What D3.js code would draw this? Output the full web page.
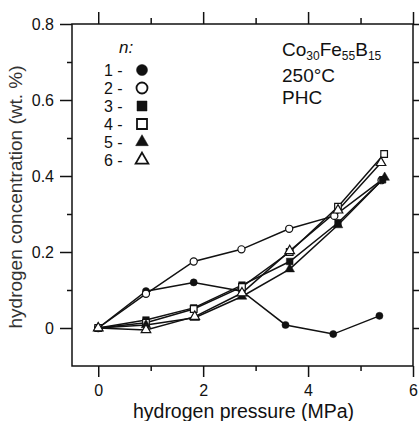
<!DOCTYPE html>
<html>
<head>
    <title>Hydrogen concentration</title>
    <script src="https://cdn.jsdelivr.net/npm/d3@7"></script>
    <style>
        body { margin: 0; background: #fff; }
        text { font-family: "Liberation Sans", Arial, sans-serif; }
    </style>
</head>
<body>
    <div id="chart"></div>
    <script type="text/javascript">
        // pressure (MPa) and hydrogen content (wt. %) for n = 1..6
        var x1 = [0, 0.91, 1.82, 2.74, 3.57, 4.48, 5.36];
        var y1 = [0, 0.097, 0.120, 0.097, 0.008, -0.016, 0.032];
        var x2 = [0, 0.91, 1.82, 2.73, 3.64, 4.50, 5.40];
        var y2 = [0, 0.090, 0.175, 0.207, 0.261, 0.295, 0.389];
        var x3 = [0, 0.91, 1.82, 2.74, 3.65, 4.57, 5.42];
        var y3 = [0, 0.021, 0.053, 0.113, 0.175, 0.277, 0.390];
        var x4 = [0, 0.91, 1.82, 2.74, 3.65, 4.57, 5.45];
        var y4 = [0, 0.014, 0.050, 0.108, 0.200, 0.319, 0.458];
        var x5 = [0, 0.91, 1.84, 2.74, 3.65, 4.57, 5.46];
        var y5 = [0, 0.008, 0.027, 0.083, 0.155, 0.271, 0.396];
        var x6 = [0, 0.91, 1.84, 2.74, 3.65, 4.57, 5.39];
        var y6 = [0, -0.005, 0.030, 0.092, 0.203, 0.310, 0.435];

        var seriesNames = ["1", "2", "3", "4", "5", "6"];
        var xTicks = [0, 2, 4, 6];
        var xMinor = [1, 3, 5];
        var yTicks = [0, 0.2, 0.4, 0.6, 0.8];
        var yMinor = [0.1, 0.3, 0.5, 0.7];
        var yTickLabels = ["0", "0.2", "0.4", "0.6", "0.8"];

        var width = 419;
        var height = 421;
        var pL = 72, pR = 413, pT = 24, pB = 366;

        var xScale = d3.scaleLinear().domain([-0.5, 6]).range([pL, pR]);
        var yScale = d3.scaleLinear().domain([-0.1, 0.8]).range([pB, pT]);

        var svg = d3.select("#chart").append("svg")
            .attr('width', width)
            .attr('height', height)
            .style('background', '#fff');

        // axes: outward ticks all round
        function styleAxis(g) {
            g.select(".domain").remove();
            g.selectAll("line").attr("stroke", "#111").attr("stroke-width", 1.5);
            g.selectAll("text").attr("fill", "#111")
                .style("font-size", "16px")
                .style("font-family", '"Liberation Sans", Arial, sans-serif');
        }

        svg.append("g").attr("transform", "translate(0," + pB + ")")
            .call(d3.axisBottom(xScale).tickValues(xTicks).tickSize(11).tickPadding(8)
                .tickFormat(d3.format("d")))
            .call(styleAxis);
        svg.append("g").attr("transform", "translate(0," + pB + ")")
            .call(d3.axisBottom(xScale).tickValues(xMinor).tickSize(5).tickFormat(""))
            .call(styleAxis);
        svg.append("g").attr("transform", "translate(0," + pT + ")")
            .call(d3.axisTop(xScale).tickValues(xTicks).tickSize(12).tickFormat(""))
            .call(styleAxis);
        svg.append("g").attr("transform", "translate(0," + pT + ")")
            .call(d3.axisTop(xScale).tickValues(xMinor).tickSize(6).tickFormat(""))
            .call(styleAxis);
        svg.append("g").attr("transform", "translate(" + pL + ",0)")
            .call(d3.axisLeft(yScale).tickValues(yTicks).tickSize(12).tickPadding(6)
                .tickFormat(function(d, i) { return yTickLabels[i]; }))
            .call(styleAxis);
        svg.append("g").attr("transform", "translate(" + pL + ",0)")
            .call(d3.axisLeft(yScale).tickValues(yMinor).tickSize(5).tickFormat(""))
            .call(styleAxis);
        svg.append("g").attr("transform", "translate(" + pR + ",0)")
            .call(d3.axisRight(yScale).tickValues(yTicks.concat(yMinor)).tickSize(8).tickFormat(""))
            .call(styleAxis);

        svg.append("rect")
            .attr("x", pL).attr("y", pT)
            .attr("width", pR - pL).attr("height", pB - pT)
            .attr("fill", "none").attr("stroke", "#111").attr("stroke-width", 1.5);

        // axis titles
        svg.append("text")
            .attr("x", (pL + pR) / 2 + 1).attr("y", 418)
            .attr("text-anchor", "middle")
            .style("font-size", "19.5px").attr("fill", "#111")
            .text("hydrogen pressure (MPa)");
        svg.append("text")
            .attr("transform", "translate(22,197) rotate(-90)")
            .attr("text-anchor", "middle")
            .style("font-size", "19px").attr("fill", "#333")
            .text("hydrogen concentration (wt. %)");

        // series
        var series = [
            { name: seriesNames[0], xs: x1, ys: y1, type: d3.symbolCircle, fill: true },
            { name: seriesNames[1], xs: x2, ys: y2, type: d3.symbolCircle, fill: false },
            { name: seriesNames[2], xs: x3, ys: y3, type: d3.symbolSquare, fill: true },
            { name: seriesNames[3], xs: x4, ys: y4, type: d3.symbolSquare, fill: false },
            { name: seriesNames[4], xs: x5, ys: y5, type: d3.symbolTriangle, fill: true },
            { name: seriesNames[5], xs: x6, ys: y6, type: d3.symbolTriangle, fill: false }
        ];

        var line = d3.line()
            .x(function(d) { return xScale(d[0]); })
            .y(function(d) { return yScale(d[1]); });

        series.forEach(function(s) {
            var pts = s.xs.map(function(x, i) { return [x, s.ys[i]]; });
            svg.append("path")
                .datum(pts)
                .attr("d", line)
                .attr("fill", "none")
                .attr("stroke", "#111")
                .attr("stroke-width", 1.5);
        });
        series.forEach(function(s) {
            var pts = s.xs.map(function(x, i) { return [x, s.ys[i]]; });
            var sz = s.type === d3.symbolCircle ? 40 : (s.type === d3.symbolSquare ? 44 : 40);
            svg.append("g").selectAll("path")
                .data(pts)
                .enter().append("path")
                    .attr("transform", function(d) {
                        return "translate(" + xScale(d[0]) + "," + yScale(d[1]) + ")";
                    })
                    .attr("d", d3.symbol().type(s.type).size(sz))
                    .attr("fill", s.fill ? "#111" : "#fff")
                    .attr("stroke", "#111")
                    .attr("stroke-width", s.fill ? 0.5 : 1.2);
        });

        // legend
        svg.append("text")
            .attr("x", 119).attr("y", 53)
            .style("font-size", "17px").style("font-style", "italic").attr("fill", "#111")
            .text("n:");
        var leg = svg.append("g").selectAll("g")
            .data(series)
            .enter().append("g")
                .attr("transform", function(d, i) { return "translate(0," + (70 + i * 18) + ")"; });
        leg.append("text")
            .attr("x", 104).attr("y", 6)
            .style("font-size", "16px").attr("fill", "#111")
            .text(function(d) { return d.name + " -"; });
        leg.append("path")
            .attr("transform", "translate(142,0)")
            .attr("d", function(d) {
                var sz = d.type === d3.symbolCircle ? 95 : (d.type === d3.symbolSquare ? 100 : 70);
                return d3.symbol().type(d.type).size(sz)();
            })
            .attr("fill", function(d) { return d.fill ? "#111" : "#fff"; })
            .attr("stroke", "#111")
            .attr("stroke-width", function(d) { return d.fill ? 0.5 : 1.8; });

        // sample annotation
        var note = svg.append("g").style("font-size", "19px").attr("fill", "#111");
        var t1 = note.append("text").attr("x", 282).attr("y", 56);
        t1.append("tspan").text("Co");
        t1.append("tspan").attr("dy", 4).style("font-size", "12px").text("30");
        t1.append("tspan").attr("dy", -4).text("Fe");
        t1.append("tspan").attr("dy", 4).style("font-size", "12px").text("55");
        t1.append("tspan").attr("dy", -4).text("B");
        t1.append("tspan").attr("dy", 4).style("font-size", "12px").text("15");
        note.append("text").attr("x", 282).attr("y", 82).text("250°C");
        note.append("text").attr("x", 282).attr("y", 104).text("PHC");
    </script>
</body>
</html>
